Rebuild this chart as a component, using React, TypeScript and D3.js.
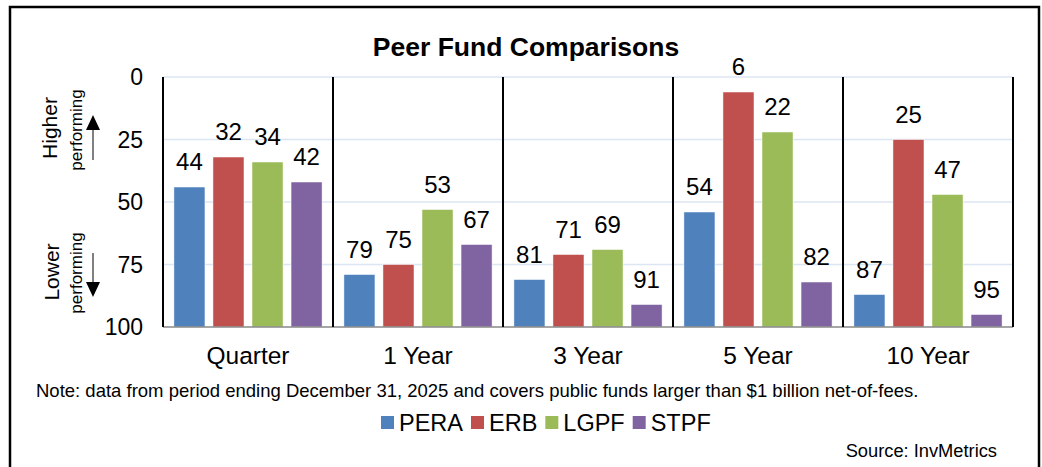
import React from 'react';
import * as d3 from 'd3';

const categories = ['Quarter', '1 Year', '3 Year', '5 Year', '10 Year'];
const seriesNames = ['PERA', 'ERB', 'LGPF', 'STPF'];
const pera = [44, 79, 81, 54, 87];
const erb = [32, 75, 71, 6, 25];
const lgpf = [34, 53, 69, 22, 47];
const stpf = [42, 67, 91, 82, 95];
const yTicks = [0, 25, 50, 75, 100];
const colors = ['#4f81bd', '#c0504d', '#9bbb59', '#8064a2'];

const FONT = '"Liberation Sans", Arial, sans-serif';

const measure = (text: string, font: string) => {
  const ctx = document.createElement('canvas').getContext('2d');
  if (!ctx) return text.length * 12;
  ctx.font = font;
  return ctx.measureText(text).width;
};

const App = () => {
  const width = 1042;
  const height = 467;
  const margin = { top: 77, right: 29, bottom: 140, left: 163 };

  const values = [pera, erb, lgpf, stpf];

  const x0 = d3.scaleBand()
    .domain(categories)
    .range([margin.left, width - margin.right])
    .padding(0);

  const x1 = d3.scaleBand()
    .domain(seriesNames)
    .range([0, x0.bandwidth()])
    .paddingInner(0.205)
    .paddingOuter(0.28);

  const y = d3.scaleLinear()
    .domain([0, 100])
    .range([margin.top, height - margin.bottom]);

  // legend layout
  const legendSize = 23.5;
  const legendFont = `${legendSize}px ${FONT}`;
  let lx = 381;
  const legendItems = seriesNames.map((name, i) => {
    const item = { name, x: lx, color: colors[i] };
    lx += 13 + 5 + measure(name, legendFont) + 8;
    return item;
  });

  const x0Range = x0.range();

  return (
    <svg width={width} height={height} style={{ position: 'absolute', left: 0, top: 0, background: '#fff' }} fontFamily={FONT}>
      {/* outer frame */}
      <rect x={10} y={7} width={1029} height={480} fill="none" stroke="#000" strokeWidth={2.5} />

      <text x={526} y={56} textAnchor="middle" fontSize={26.5} fontWeight="bold">Peer Fund Comparisons</text>

      {/* gridlines */}
      {yTicks.slice(0, -1).map(t => (
        <line key={t} x1={x0Range[0]} x2={x0Range[1]} y1={y(t)} y2={y(t)} stroke="#dce6f2" strokeWidth={1.5} />
      ))}

      {/* tick labels */}
      {yTicks.map(t => (
        <text key={t} x={143} y={y(t)} dy="0.36em" textAnchor="end" fontSize={23}>{t}</text>
      ))}

      {/* bars */}
      {categories.map((c, ci) => (
        <g key={c} transform={`translate(${x0(c)},0)`}>
          {seriesNames.map((s, si) => {
            const v = values[si][ci];
            const bx = x1(s) as number;
            return (
              <g key={s}>
                <rect x={bx} y={y(v)} width={x1.bandwidth()} height={y(100) - y(v)} fill={colors[si]} stroke="#fff" strokeWidth={0.5} />
                <text x={bx + x1.bandwidth() / 2} y={y(v) - 17} textAnchor="middle" fontSize={24}>{v}</text>
              </g>
            );
          })}
          <text x={x0.bandwidth() / 2} y={364} textAnchor="middle" fontSize={24.5}>{c}</text>
        </g>
      ))}

      {/* bottom axis */}
      <line x1={x0Range[0]} x2={x0Range[1]} y1={y(100)} y2={y(100)} stroke="#888" strokeWidth={1.5} />

      {/* separators */}
      {[...categories.map(c => x0(c) as number), x0Range[1]].map((sx, i) => (
        <line key={i} x1={sx} x2={sx} y1={y(0)} y2={y(100)} stroke="#000" strokeWidth={2} />
      ))}

      {/* y-axis annotations */}
      <text transform="translate(57,128) rotate(-90)" textAnchor="middle" fontSize={21}>Higher</text>
      <text transform="translate(82,130) rotate(-90)" textAnchor="middle" fontSize={17}>performing</text>
      <line x1={93} x2={93} y1={160} y2={128} stroke="#000" strokeWidth={1} />
      <path d="M86,130 L100,130 L93,115 Z" fill="#000" />

      <text transform="translate(59,272) rotate(-90)" textAnchor="middle" fontSize={21}>Lower</text>
      <text transform="translate(82,273) rotate(-90)" textAnchor="middle" fontSize={17}>performing</text>
      <line x1={93} x2={93} y1={253} y2={284} stroke="#000" strokeWidth={1} />
      <path d="M86,282 L100,282 L93,297 Z" fill="#000" />

      <text x={36} y={397} fontSize={18.5}>Note: data from period ending December 31, 2025 and covers public funds larger than $1 billion net-of-fees.</text>

      {legendItems.map(it => (
        <g key={it.name}>
          <rect x={it.x} y={416} width={13} height={13} fill={it.color} />
          <text x={it.x + 18} y={431} fontSize={legendSize}>{it.name}</text>
        </g>
      ))}

      <text x={997} y={457} textAnchor="end" fontSize={18.3}>Source: InvMetrics</text>
    </svg>
  );
};

export default App;
